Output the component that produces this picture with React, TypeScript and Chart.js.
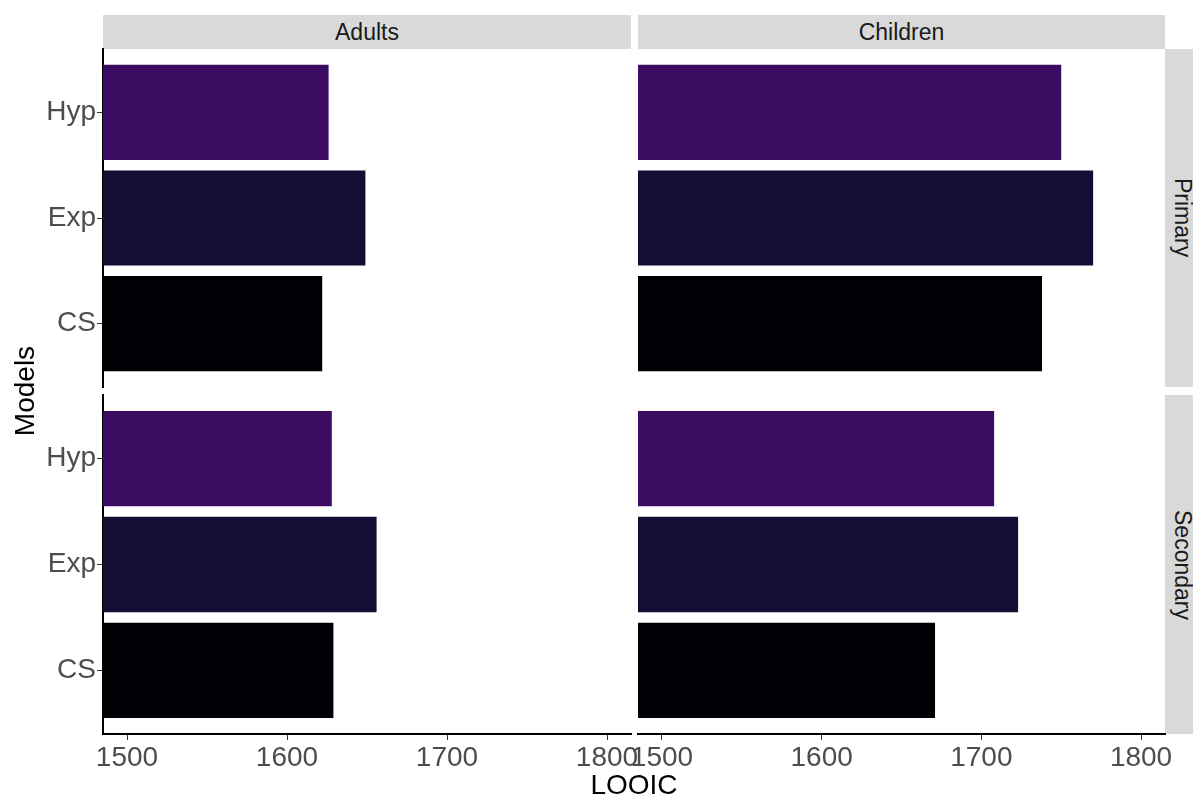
import React, { useEffect, useRef } from "react";
import { Chart, registerables } from "chart.js";

Chart.register(...registerables);

// ---- data ----
const models = ["CS", "Exp", "Hyp"];
const modelPositions = [1, 2, 3];
const modelColors = ["#000004", "#140E34", "#3B0C61"];
const ageGroups = ["Adults", "Children"];
const schoolLevels = ["Primary", "Secondary"];
const adultsPrimary = [1622, 1649, 1626];
const adultsSecondary = [1629, 1656, 1628];
const childrenPrimary = [1738, 1770, 1750];
const childrenSecondary = [1671, 1723, 1708];
const xTicks = [1500, 1600, 1700, 1800];
const xMin = 1485;
const xMax = 1815;
const xTitle = "LOOIC";
const yTitle = "Models";

// ---- layout ----
const W = 1193;
const H = 796;
const colX = [
  [103, 631],
  [638, 1165],
];
const rowY = [
  [49, 387],
  [395, 734],
];
const Y_AXIS_W = 63;
const X_AXIS_H = 50;
const FONT = '"Liberation Sans", Arial, Helvetica, sans-serif';

const panelValues = [
  [adultsPrimary, adultsSecondary],
  [childrenPrimary, childrenSecondary],
];

function Panel({ col, row }: { col: number; row: number }) {
  const ref = useRef<HTMLCanvasElement | null>(null);
  useEffect(() => {
    if (!ref.current) return;
    const values = panelValues[col][row];
    const showY = col === 0;
    const showX = row === 1;
    const chart = new Chart(ref.current, {
      type: "bar",
      data: {
        datasets: [
          {
            data: models.map((m, i) => ({ x: values[i], y: modelPositions[i] })) as any,
            backgroundColor: modelColors,
            borderWidth: 0,
            categoryPercentage: 1,
            barPercentage: 0.9,
          },
        ],
      },
      options: {
        indexAxis: "y",
        responsive: false,
        animation: false,
        events: [],
        layout: {
          padding: {
            left: showY ? colX[col][0] - Y_AXIS_W : colX[col][0],
            right: W - colX[col][1],
            top: rowY[row][0],
            bottom: showX ? H - rowY[row][1] - X_AXIS_H : H - rowY[row][1],
          },
        },
        plugins: { legend: { display: false }, tooltip: { enabled: false }, title: { display: false } },
        scales: {
          x: {
            type: "linear",
            min: xMin,
            max: xMax,
            offset: false,
            display: showX,
            afterBuildTicks: (s: any) => {
              s.ticks = xTicks.map((v) => ({ value: v }));
            },
            afterFit: (s: any) => {
              s.height = showX ? X_AXIS_H : 0;
              s.paddingLeft = 0;
              s.paddingRight = 0;
            },
            grid: {
              display: true,
              offset: false,
              drawOnChartArea: false,
              drawTicks: true,
              tickLength: 6,
              color: "#333333",
              lineWidth: 1,
            },
            border: { display: true, color: "#000000", width: 2 },
            ticks: {
              autoSkip: false,
              maxRotation: 0,
              padding: 1,
              color: "#4D4D4D",
              font: { family: FONT, size: 28 },
              callback: (v: any) => String(v),
            },
          },
          y: {
            type: "linear",
            min: 0.4,
            max: 3.6,
            offset: false,
            display: showY,
            afterBuildTicks: (s: any) => {
              s.ticks = modelPositions.map((v) => ({ value: v }));
            },
            afterFit: (s: any) => {
              s.width = showY ? Y_AXIS_W : 0;
              s.paddingTop = 0;
              s.paddingBottom = 0;
            },
            grid: {
              display: true,
              offset: false,
              drawOnChartArea: false,
              drawTicks: true,
              tickLength: 6,
              color: "#333333",
              lineWidth: 1,
            },
            border: { display: true, color: "#000000", width: 2 },
            ticks: {
              autoSkip: false,
              padding: 1,
              color: "#4D4D4D",
              font: { family: FONT, size: 28 },
              callback: (v: any) => {
                const i = modelPositions.indexOf(Number(v));
                return i >= 0 ? models[i] : "";
              },
            },
          },
        },
      },
    });
    return () => chart.destroy();
  }, [col, row]);
  return (
    <canvas
      ref={ref}
      width={W}
      height={H}
      style={{ position: "absolute", left: 0, top: 0, width: W, height: H }}
    />
  );
}

export default function App() {
  useEffect(() => {
    document.body.style.margin = "0";
  }, []);
  const stripStyle: React.CSSProperties = {
    position: "absolute",
    background: "#D9D9D9",
    color: "#1A1A1A",
    fontFamily: FONT,
    fontSize: 23,
    display: "flex",
    alignItems: "center",
    justifyContent: "center",
    whiteSpace: "nowrap",
  };
  return (
    <div
      style={{
        position: "relative",
        width: W,
        height: H,
        overflow: "hidden",
        background: "#FFFFFF",
      }}
    >
      {ageGroups.map((g, c) => (
        <div
          key={g}
          style={{
            ...stripStyle,
            left: colX[c][0],
            width: colX[c][1] - colX[c][0],
            top: 15,
            height: 34,
          }}
        >
          {g}
        </div>
      ))}
      {schoolLevels.map((s, r) => (
        <div
          key={s}
          style={{
            ...stripStyle,
            left: 1165,
            width: 34,
            top: rowY[r][0],
            height: rowY[r][1] - rowY[r][0],
          }}
        >
          <span style={{ writingMode: "vertical-rl" }}>{s}</span>
        </div>
      ))}
      {[0, 1].map((c) => [0, 1].map((r) => <Panel key={`${c}-${r}`} col={c} row={r} />))}
      <div
        style={{
          position: "absolute",
          left: 25 - 100,
          top: 391 - 20,
          width: 200,
          height: 40,
          lineHeight: "40px",
          textAlign: "center",
          transform: "rotate(-90deg)",
          fontFamily: FONT,
          fontSize: 28,
          color: "#000000",
        }}
      >
        {yTitle}
      </div>
      <div
        style={{
          position: "absolute",
          left: 634 - 100,
          top: 785 - 20,
          width: 200,
          height: 40,
          lineHeight: "40px",
          textAlign: "center",
          fontFamily: FONT,
          fontSize: 28,
          color: "#000000",
        }}
      >
        {xTitle}
      </div>
    </div>
  );
}
